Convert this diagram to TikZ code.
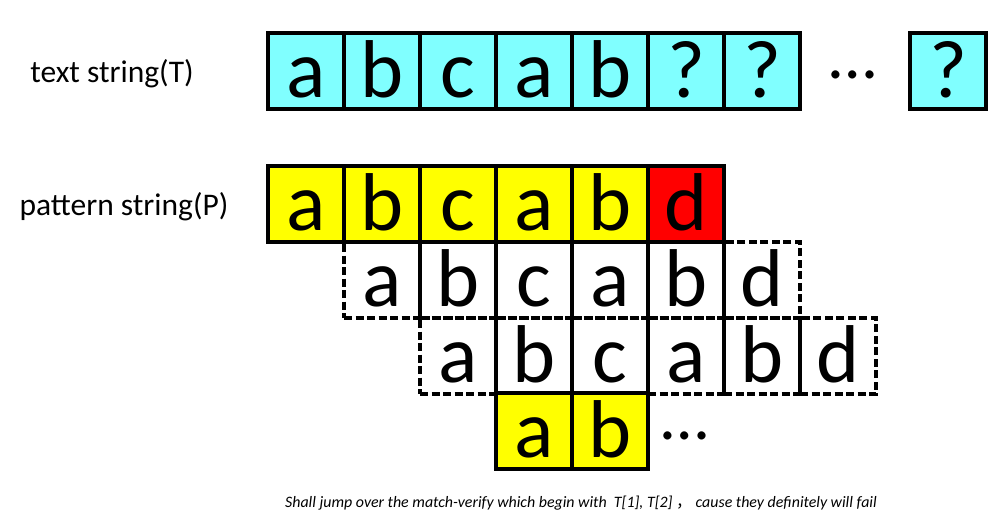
\documentclass[tikz,border=0pt]{standalone}
\usepackage{fontspec}
\setmainfont{Carlito}
\newfontfamily\cjk{Noto Sans CJK SC}
\definecolor{cyanc}{HTML}{80FFFF}
\definecolor{yelc}{HTML}{FFFF00}
\definecolor{redc}{HTML}{FF0000}
\tikzset{
  cell/.style={draw=black, line width=3.2pt, minimum width=76pt, minimum height=76pt,
    inner sep=0pt, text height=53pt, text depth=0pt, font=\fontsize{82}{82}\selectfont},
  tcell/.style={cell, fill=cyanc},
  ycell/.style={cell, fill=yelc},
  rcell/.style={cell, fill=redc},
  dcell/.style={cell, line width=3.2pt, dash pattern=on 8pt off 3.5pt},
  lbl/.style={font=\fontsize{31.5}{34}\selectfont, inner sep=0pt},
  dots/.style={font=\fontsize{68}{70}\selectfont, inner sep=0pt, text height=8pt, text depth=0pt},
}
\begin{document}
\begin{tikzpicture}[x=1pt,y=-1pt]
\useasboundingbox (0,0) rectangle (1008,524);
% labels
\node[lbl] (lt) at (112,74) {text string(T)};
\node[lbl] (lp) at (124,207) {pattern string(P)};
% text string
\foreach \c [count=\i] in {a,b,c,a,b,?,?}
  \node[tcell] (t\i) at ({306+76*(\i-1)},71) {\c};
\node[dots] (tdots) at (853,75) {…};
\node[tcell] (tn) at (948,71) {?};
% pattern row 1
\foreach \c [count=\i] in {a,b,c,a,b}
  \node[ycell] (p\i) at ({306+76*(\i-1)},204) {\c};
\node[rcell] (p6) at (686,204) {d};
% dashed rows
\foreach \c [count=\i] in {a,b,c,a,b,d}
  \node[dcell] (q\i) at ({382+76*(\i-1)},280) {\c};
\foreach \c [count=\i] in {a,b,c,a,b,d}
  \node[dcell] (r\i) at ({458+76*(\i-1)},356) {\c};
% last row
\node[ycell] (s1) at (534,431) {a};
\node[ycell] (s2) at (610,431) {b};
\node[dots] (sdots) at (685,435) {…};
% caption
\node[font=\fontsize{15.9}{18}\selectfont\itshape, inner sep=0pt] (cap) at (581,503)
  {Shall jump over the match-verify which begin with\ \ T[1], T[2] {\cjk\upshape ，}\ cause they definitely will fail};
\end{tikzpicture}
\end{document}
